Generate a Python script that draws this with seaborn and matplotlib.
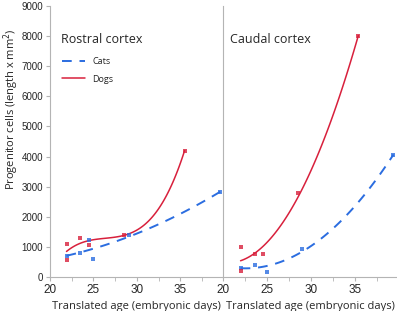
import seaborn as sns
import matplotlib.pyplot as plt
import pandas as pd
from matplotlib.lines import Line2D

# valores (idade em dias embrionários, células progenitoras)
rostral_cats_age = [21.9, 23.5, 24.5, 25.0, 29.1, 39.6]
rostral_cats_val = [700, 800, 1220, 610, 1380, 2830]
rostral_dogs_age = [21.9, 21.9, 23.5, 24.5, 28.5, 35.5]
rostral_dogs_val = [1090, 560, 1300, 1060, 1400, 4200]

caudal_cats_age = [22.0, 23.6, 25.0, 29.0, 39.4]
caudal_cats_val = [310, 410, 170, 920, 4060]
caudal_dogs_age = [22.0, 22.0, 23.6, 24.6, 28.5, 35.4]
caudal_dogs_val = [1000, 210, 780, 770, 2800, 7990]

titles = ["Rostral cortex", "Caudal cortex"]
red = "#d8203c"
blue = "#2b6de0"
gray = "#b4b4b4"

sns.set_style("ticks")
plt.rcParams['font.family'] = ['Open Sans', 'DejaVu Sans']

fig = plt.figure(figsize=(3.97, 3.11), dpi=100)
ax1 = fig.add_axes([50 / 397, 1 - 277 / 311, 172 / 397, 271 / 311])
ax2 = fig.add_axes([223 / 397, 1 - 277 / 311, 174 / 397, 271 / 311])

panels = [
    (ax1, rostral_cats_age, rostral_cats_val, rostral_dogs_age, rostral_dogs_val, 2, 3),
    (ax2, caudal_cats_age, caudal_cats_val, caudal_dogs_age, caudal_dogs_val, 2, 2),
]

for i, (ax, ca, cv, da, dv, oc, od) in enumerate(panels):
    cats = pd.DataFrame({"age": ca, "cells": cv})
    dogs = pd.DataFrame({"age": da, "cells": dv})
    sns.regplot(data=cats, x="age", y="cells", ax=ax, order=oc, ci=None, truncate=True,
                color=blue, marker="s",
                scatter_kws={"s": 5, "linewidths": 0, "zorder": 3},
                line_kws={"lw": 1.4, "ls": (0, (5, 4))})
    sns.regplot(data=dogs, x="age", y="cells", ax=ax, order=od, ci=None, truncate=True,
                color=red, marker="s",
                scatter_kws={"s": 5, "linewidths": 0, "zorder": 3},
                line_kws={"lw": 1.1})
    ax.set_xlim(20, 39.8)
    ax.set_ylim(0, 9000)
    ax.set_xticks([20, 25, 30, 35])
    ax.set_xticks([22.5, 27.5, 32.5, 37.5], minor=True)
    ax.set_xticklabels(["20", "25", "30", "35"], family="Liberation Sans", fontsize=8.5)
    ax.set_xlabel("Translated age (embryonic days)", fontsize=8, labelpad=4)
    for s in ["top", "right"]:
        ax.spines[s].set_visible(False)
    ax.spines["left"].set_color(gray)
    ax.spines["bottom"].set_color(gray)
    ax.tick_params(axis="x", which="both", length=3, color=gray, pad=2)
    ax.text(0.064 if i == 0 else 0.04, 0.875, titles[i], transform=ax.transAxes,
            fontsize=9, va="center", ha="left")

ax1.set_yticks(range(0, 9001, 1000))
ax1.set_yticklabels([str(v) for v in range(0, 9001, 1000)], family="Liberation Sans", fontsize=7)
ax1.tick_params(axis="y", length=3, color=gray, pad=2)
ax1.set_ylabel("Progenitor cells (length x mm$^2$)", fontsize=8)
ax1.yaxis.set_label_coords(-29 / 172, 0.62)

ax2.set_yticks([])
ax2.set_ylabel("")

handles = [Line2D([], [], color=blue, lw=1.4, ls=(0, (5, 4))),
           Line2D([], [], color=red, lw=1.1)]
ax1.legend(handles, ["Cats", "Dogs"], loc="upper left", bbox_to_anchor=(0.02, 0.84),
           frameon=False, fontsize=6.5, handlelength=2.6, labelspacing=0.9)

fig.savefig("out.png", dpi=100)
